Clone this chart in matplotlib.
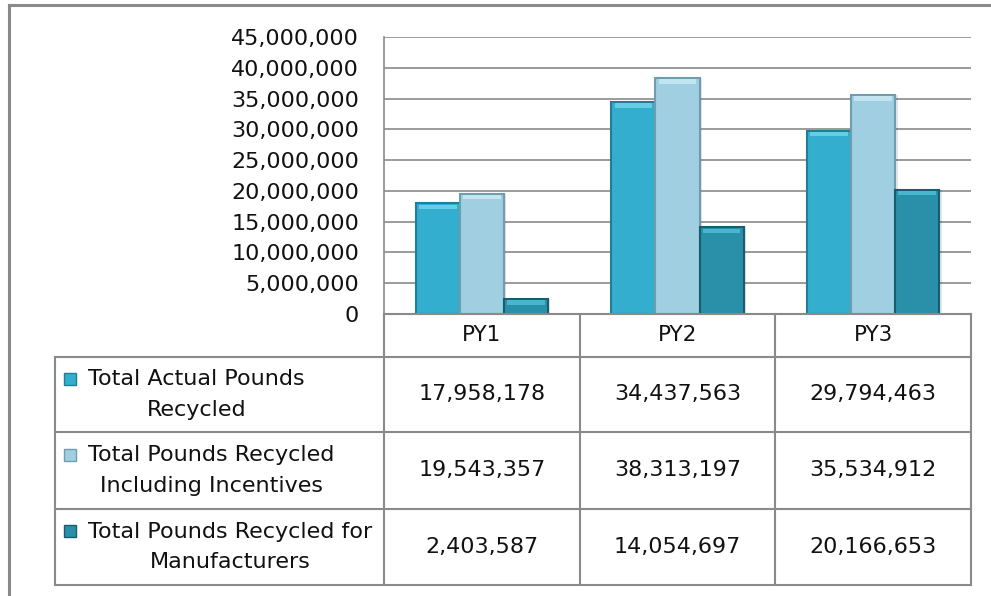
import numpy as np
import matplotlib
matplotlib.use("Agg")
import matplotlib.pyplot as plt
from matplotlib.patches import Rectangle
from matplotlib.lines import Line2D
from matplotlib.ticker import FuncFormatter

# --- data ---
periods = ["PY1", "PY2", "PY3"]
series_names = [
    "Total Actual Pounds\nRecycled",
    "Total Pounds Recycled\nIncluding Incentives",
    "Total Pounds Recycled for\nManufacturers",
]
actual = [17958178, 34437563, 29794463]
incentives = [19543357, 38313197, 35534912]
manufacturers = [2403587, 14054697, 20166653]
y_ticks = list(range(0, 45000001, 5000000))

series = [actual, incentives, manufacturers]
face = ["#34aecf", "#9fcfe0", "#2a90aa"]
edge = ["#1f7f99", "#6f9dad", "#175d70"]
cap = ["#6fd3ea", "#c8ebf6", "#4fbdd6"]

W, H = 991, 596
fig = plt.figure(figsize=(W / 100, H / 100), dpi=100)
plt.rcParams['font.family'] = ['DejaVu Sans']
FS = 16

def fx(x):
    return x / W

def fy(y):
    return 1 - y / H

# outer frame (cut off on right and bottom)
fig.add_artist(Line2D([fx(9), fx(9)], [fy(5), fy(600)], color="#8a8a8a", lw=2.2))
fig.add_artist(Line2D([fx(9), fx(995)], [fy(5), fy(5)], color="#8a8a8a", lw=2.2))

left, right, top, bottom = 384, 971, 37, 314
ax = fig.add_axes([fx(left), fy(bottom), fx(right - left), (bottom - top) / H])

x = np.arange(len(periods))
bw = 0.225
ymax = 45000000
for i, vals in enumerate(series):
    xs = x + (i - 1) * bw
    # soft shadow
    ax.bar(xs + 0.012, vals, bw, color="#000000", alpha=0.10, zorder=2, linewidth=0)
    ax.bar(xs, vals, bw, color=face[i], edgecolor=edge[i], linewidth=1.5, zorder=3)
    ch = np.minimum(np.array(vals) * 0.4, ymax * 0.016)
    ax.bar(xs, ch, bw * 0.86, bottom=np.array(vals) - ch - ymax * 0.004,
           color=cap[i], linewidth=0, zorder=4, alpha=0.85)

ax.set_xlim(-0.5, len(periods) - 0.5)
ax.set_ylim(0, ymax)
ax.set_yticks(y_ticks)
ax.yaxis.set_major_formatter(FuncFormatter(lambda v, p: f"{int(v):,}"))
ax.set_xticks([])
ax.tick_params(axis="y", length=0, pad=18, labelsize=FS, labelcolor="#111111")
ax.grid(axis="y", color="#8a8a8a", lw=1.2, zorder=0)
ax.set_axisbelow(True)
for s in ["top", "right"]:
    ax.spines[s].set_visible(False)
ax.spines["left"].set_color("#8a8a8a")
ax.spines["left"].set_linewidth(1.2)
ax.spines["bottom"].set_color("#8a8a8a")
ax.spines["bottom"].set_linewidth(1.2)

# --- data table ---
lc = "#8a8a8a"
col_x = [left + (right - left) * k / len(periods) for k in range(len(periods) + 1)]
row_y = [314, 357, 432, 509, 585]
tab_left = 55

def hline(x0, x1, y):
    fig.add_artist(Line2D([fx(x0), fx(x1)], [fy(y), fy(y)], color=lc, lw=1.5))

def vline(x, y0, y1):
    fig.add_artist(Line2D([fx(x), fx(x)], [fy(y0), fy(y1)], color=lc, lw=1.5))

hline(left, right, row_y[0])
for y in row_y[1:]:
    hline(tab_left, right, y)
for cx in col_x:
    vline(cx, row_y[0], row_y[-1])
vline(tab_left, row_y[1], row_y[-1])

for j, p in enumerate(periods):
    fig.text(fx((col_x[j] + col_x[j + 1]) / 2), fy((row_y[0] + row_y[1]) / 2), p,
             ha="center", va="center", fontsize=FS - 0.5, color="#111111")

for i, (name, vals) in enumerate(zip(series_names, series)):
    yc = (row_y[i + 1] + row_y[i + 2]) / 2
    fig.text(fx(88), fy(yc), name, ha="left", va="center", multialignment="center",
             fontsize=FS, color="#111111", linespacing=1.65)
    fig.add_artist(Rectangle((fx(64), fy(yc - 10)), fx(12), 12 / H,
                             facecolor=face[i], edgecolor=edge[i], lw=1))
    for j, v in enumerate(vals):
        fig.text(fx((col_x[j] + col_x[j + 1]) / 2), fy(yc), f"{v:,}",
                 ha="center", va="center", fontsize=FS, color="#111111")

fig.savefig("out.png", dpi=100)
